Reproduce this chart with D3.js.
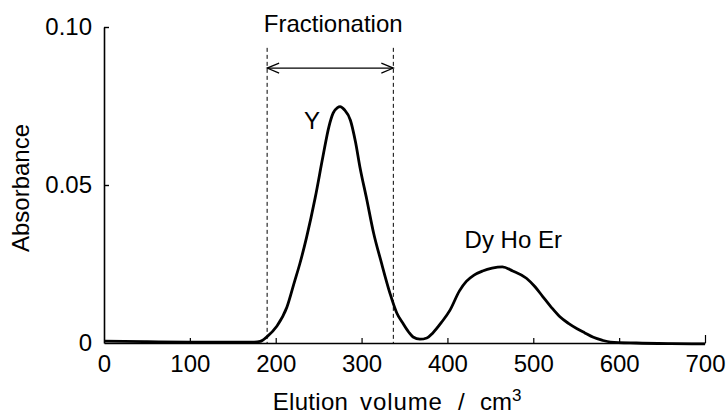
<!DOCTYPE html>
<html>
<head>
<meta charset="utf-8">
<script src="https://cdn.jsdelivr.net/npm/d3@7"></script>
<style>
  body { margin: 0; background: #fff; }
  svg { display: block; font-family: "Liberation Sans", Arial, sans-serif; }
</style>
</head>
<body>
<svg id="chart" width="726" height="415"></svg>
<script>
// elution curve
const volume = [0, 50, 100, 150, 175, 182, 190, 201, 213, 222, 228, 236, 246, 255, 262, 267, 272, 275, 280, 287, 293, 298, 306, 314, 323, 333, 341, 348, 355, 360, 368, 376, 383, 393, 403, 414, 422, 431, 441, 452, 464, 476, 492, 502, 511, 521, 531, 541, 551, 560, 570, 580, 590, 620, 660, 700];
const absorbance = [0.0006, 0.0004, 0.0003, 0.0003, 0.0003, 0.0005, 0.002, 0.0052, 0.0113, 0.0195, 0.025, 0.0335, 0.046, 0.059, 0.0685, 0.0728, 0.0745, 0.0748, 0.0738, 0.0705, 0.0635, 0.0558, 0.0455, 0.0348, 0.0255, 0.0158, 0.0095, 0.0063, 0.0034, 0.0019, 0.0012, 0.0016, 0.0032, 0.0065, 0.0104, 0.0165, 0.0195, 0.0215, 0.0228, 0.0237, 0.0241, 0.0228, 0.0205, 0.0178, 0.0147, 0.0113, 0.0083, 0.0062, 0.0045, 0.0032, 0.0018, 0.0009, 0.0003, 0.0, -0.0002, -0.0003];

const xTicks = [0, 100, 200, 300, 400, 500, 600, 700];
const yTicks = [0, 0.05, 0.10];
const yTickLabels = ["0", "0.05", "0.10"];

const fraction = [190, 337];      // dashed cut lines
const fractionTop = 0.0934;
const arrowLevel = 0.087;

const peakLabels = [
  {text: "Y", x: 233, y: 0.0678},
  {text: "Dy Ho Er", x: 420, y: 0.0302}
];

// x title words, each with its volume position under the axis
const titleWords = [
  {text: "Elution", at: 196.6, ls: 0.3},
  {text: "volume", at: 298.2, ls: 0.9},
  {text: "/", at: 412.3, ls: 0},
  {text: "cm", at: 437.9, ls: 0}
];

const svg = d3.select("#chart");
const fontSize = 24;

const x = d3.scaleLinear().domain([0, 700]).range([104, 705]);
const y = d3.scaleLinear().domain([0, 0.1]).range([343, 27]);

// x axis, ticks pointing inward
const xAxis = d3.axisBottom(x)
  .tickValues(xTicks)
  .tickSizeInner(-5)
  .tickSizeOuter(0)
  .tickPadding(12)
  .tickFormat(d3.format("d"));

const gx = svg.append("g")
  .attr("transform", `translate(0,${y(0)})`)
  .call(xAxis);
gx.select(".domain").attr("stroke-width", 1.6);
gx.selectAll(".tick line").attr("stroke-width", 1.2);
gx.selectAll(".tick").filter(d => d === 700).select("line").attr("y2", -8);
gx.selectAll(".tick").filter(d => d === 0).select("line").remove();
gx.selectAll("text")
  .style("font-size", fontSize + "px")
  .style("font-family", "'Liberation Sans', Arial, sans-serif")
  .attr("fill", "#000");

const yAxis = d3.axisLeft(y)
  .tickValues(yTicks)
  .tickSizeInner(-5)
  .tickSizeOuter(0)
  .tickPadding(12)
  .tickFormat((d, i) => yTickLabels[i]);

const gy = svg.append("g")
  .attr("transform", `translate(${x(0)},0)`)
  .call(yAxis);
gy.select(".domain").attr("stroke-width", 1.6);
gy.selectAll(".tick line").attr("stroke-width", 1.4);
gy.selectAll(".tick").filter(d => d === 0).select("line").remove();
gy.selectAll("text")
  .style("font-size", fontSize + "px")
  .style("font-family", "'Liberation Sans', Arial, sans-serif")
  .attr("fill", "#000");

// axis titles
svg.append("text")
  .attr("transform", `translate(29,${188}) rotate(-90)`)
  .attr("text-anchor", "middle")
  .style("font-size", fontSize + "px")
  .text("Absorbance");

const xt = svg.append("text")
  .attr("y", 410)
  .style("font-size", fontSize + "px");
titleWords.forEach(w => {
  xt.append("tspan").attr("x", x(w.at)).style("letter-spacing", w.ls + "px").text(w.text);
});
xt.append("tspan").attr("dy", -9).style("font-size", "17px").text("3");

// fractionation cut lines
svg.append("g").selectAll("line")
  .data(fraction)
  .join("line")
  .attr("x1", d => x(d)).attr("x2", d => x(d))
  .attr("y1", y(fractionTop)).attr("y2", y(0))
  .attr("stroke", "#000")
  .attr("stroke-width", 1)
  .attr("stroke-dasharray", "4,3");

// double arrow
const ax0 = x(fraction[0]), ax1 = x(fraction[1]), ay = y(arrowLevel);
svg.append("line")
  .attr("x1", ax0).attr("x2", ax1)
  .attr("y1", ay).attr("y2", ay)
  .attr("stroke", "#000").attr("stroke-width", 1.2);
svg.append("path")
  .attr("d", `M${ax0 + 12},${ay - 5}L${ax0},${ay}L${ax0 + 12},${ay + 5}M${ax1 - 12},${ay - 5}L${ax1},${ay}L${ax1 - 12},${ay + 5}`)
  .attr("fill", "none").attr("stroke", "#000").attr("stroke-width", 1.2);

svg.append("text")
  .attr("x", (ax0 + ax1) / 2 + 3).attr("y", 32)
  .attr("text-anchor", "middle")
  .style("font-size", fontSize + "px")
  .text("Fractionation");

// the elution curve
const pts = volume.map((v, i) => [v, absorbance[i]]);
const line = d3.line()
  .x(d => x(d[0]))
  .y(d => y(d[1]))
  .curve(d3.curveMonotoneX);

svg.append("path")
  .datum(pts)
  .attr("d", line)
  .attr("fill", "none")
  .attr("stroke", "#000")
  .attr("stroke-width", 2.8)
  .attr("stroke-linejoin", "round");

svg.append("g").selectAll("text")
  .data(peakLabels)
  .join("text")
  .attr("x", d => x(d.x)).attr("y", d => y(d.y))
  .style("font-size", fontSize + "px")
  .text(d => d.text);
</script>
</body>
</html>
